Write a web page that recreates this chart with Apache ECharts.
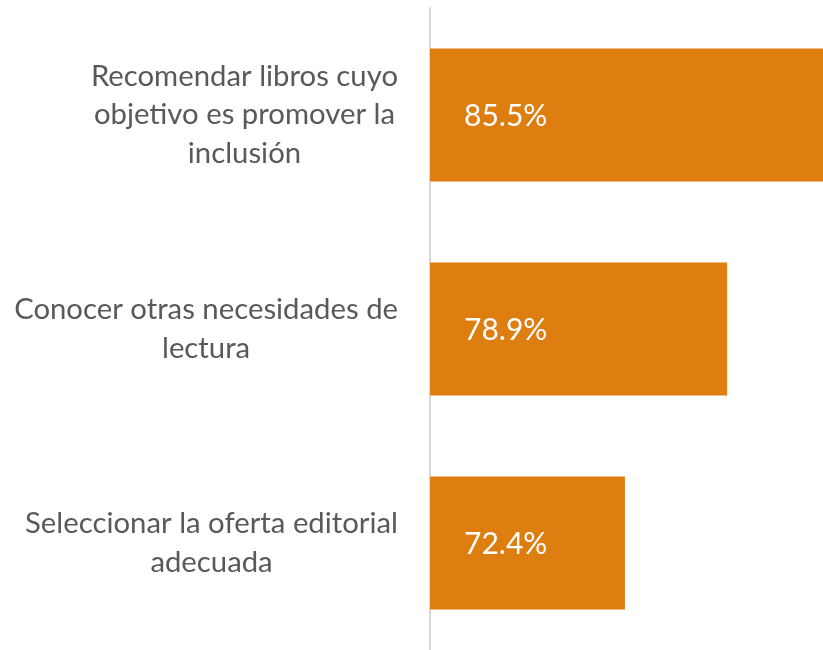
<!DOCTYPE html>
<html>
<head>
<meta charset="utf-8">
<script src="https://cdn.jsdelivr.net/npm/echarts@6/dist/echarts.min.js"></script>
<style>
html,body{margin:0;padding:0;background:#fff;}
#chart{width:823px;height:650px;}
</style>
</head>
<body>
<div id="chart"></div>
<script>
var categories = [
  'Recomendar libros cuyo\nobjetivo es promover la\ninclusión',
  'Conocer otras necesidades de\nlectura',
  'Seleccionar la oferta editorial\nadecuada'
];
var values = [85.5, 78.9, 72.4];

var FONT = 'Lato, "Open Sans", sans-serif';
var chart = echarts.init(document.getElementById('chart'));
chart.setOption({
  animation: false,
  backgroundColor: '#ffffff',
  grid: { left: 430, right: 0, top: 8, height: 647, containLabel: false },
  xAxis: {
    type: 'value', min: 60, max: 85, show: false
  },
  yAxis: {
    type: 'category',
    inverse: true,
    data: categories,
    axisLine: { show: true, lineStyle: { color: '#d9d9d9', width: 2 } },
    axisTick: { show: false },
    splitLine: { show: false },
    axisLabel: {
      margin: 32,
      color: '#595959',
      fontFamily: FONT,
      fontSize: 29.3,
      formatter: function (v) {
        return v.split('\n').map(function (s) { return '{c|' + s + '}'; }).join('\n');
      },
      rich: {
        c: { align: 'center', fontFamily: FONT, fontSize: 29.3, lineHeight: 38.5, color: '#595959' }
      }
    }
  },
  series: [{
    type: 'bar',
    data: values,
    barWidth: 133,
    itemStyle: { color: '#DE7E10' },
    label: {
      show: true,
      position: 'insideLeft',
      distance: 34,
      offset: [0, 1],
      color: '#ffffff',
      fontFamily: FONT,
      fontSize: 30,
      formatter: function (p) { return p.value.toFixed(1) + '%'; }
    }
  }]
});
</script>
</body>
</html>
